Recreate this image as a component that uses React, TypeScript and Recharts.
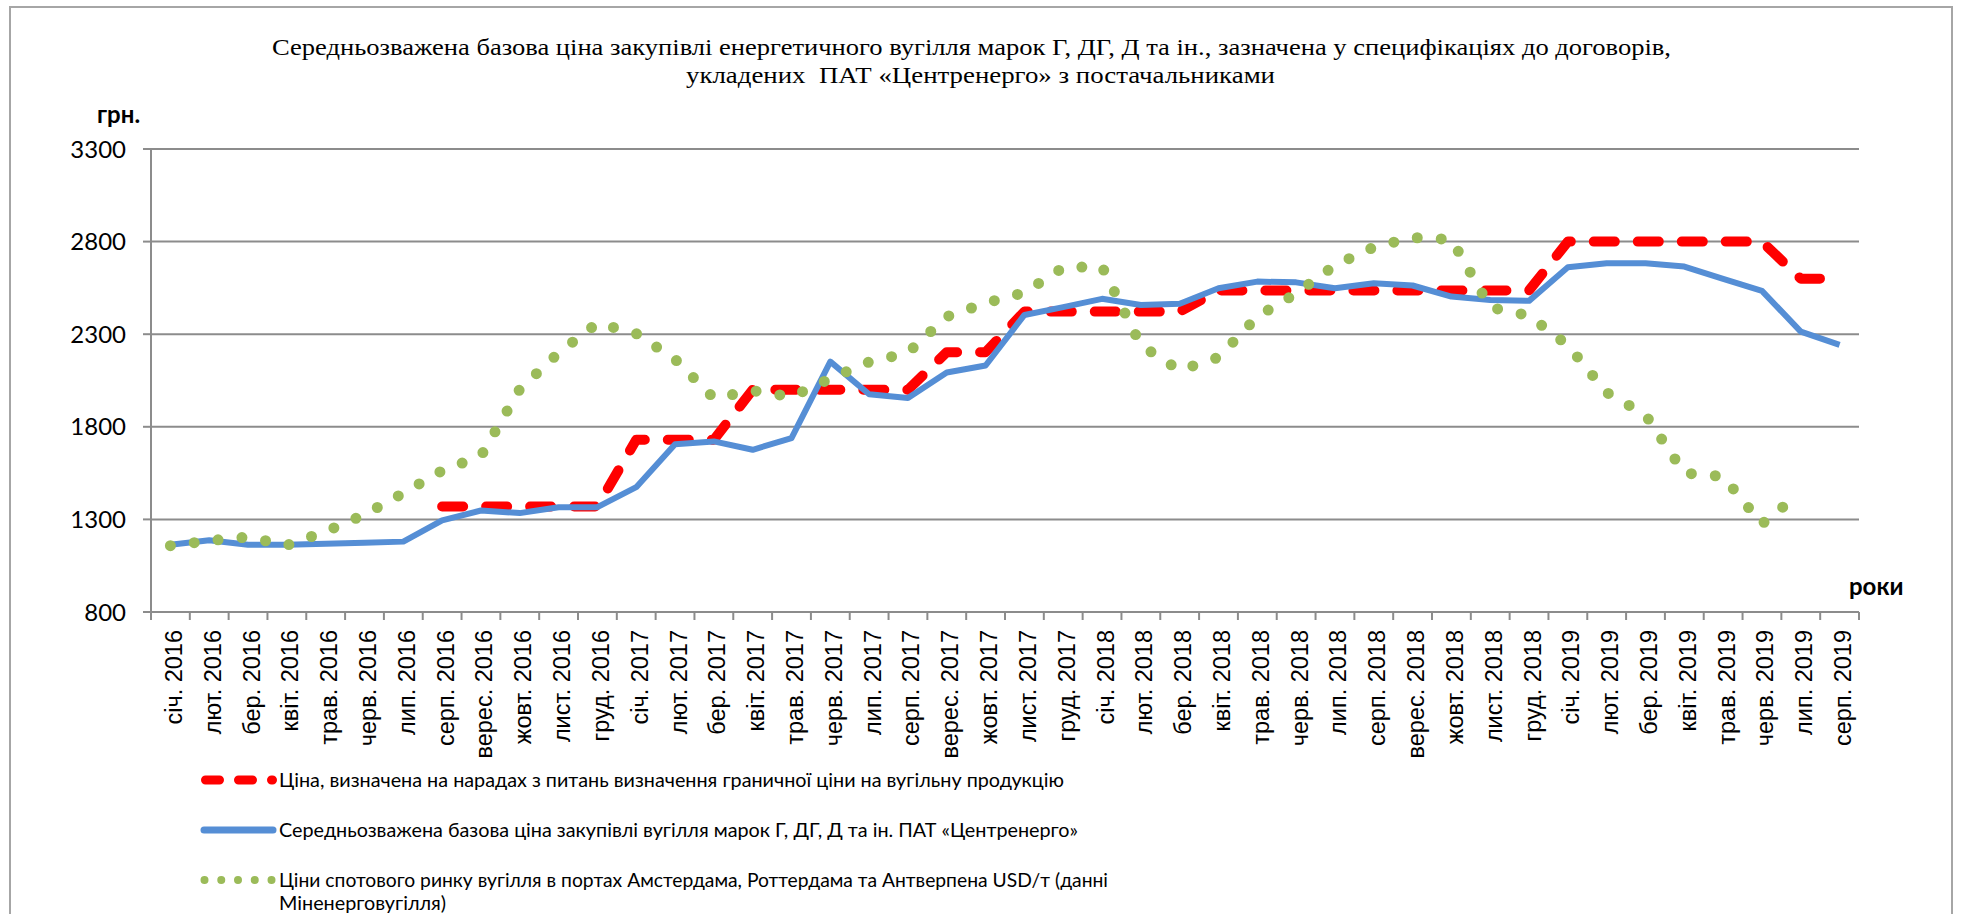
import React from "react";
import {
  LineChart,
  Line,
  XAxis,
  YAxis,
  CartesianGrid,
  Legend,
  Customized,
} from "recharts";

// місяці (вісь X)
const months = [
  "січ. 2016", "лют. 2016", "бер. 2016", "квіт. 2016", "трав. 2016", "черв. 2016",
  "лип. 2016", "серп. 2016", "верес. 2016", "жовт. 2016", "лист. 2016", "груд. 2016",
  "січ. 2017", "лют. 2017", "бер. 2017", "квіт. 2017", "трав. 2017", "черв. 2017",
  "лип. 2017", "серп. 2017", "верес. 2017", "жовт. 2017", "лист. 2017", "груд. 2017",
  "січ. 2018", "лют. 2018", "бер. 2018", "квіт. 2018", "трав. 2018", "черв. 2018",
  "лип. 2018", "серп. 2018", "верес. 2018", "жовт. 2018", "лист. 2018", "груд. 2018",
  "січ. 2019", "лют. 2019", "бер. 2019", "квіт. 2019", "трав. 2019", "черв. 2019",
  "лип. 2019", "серп. 2019",
];

// Ціна, визначена на нарадах (червона пунктирна)
const limitPrice = [
  null, null, null, null, null, null, null, 1370, 1370, 1370, 1370, 1370,
  1730, 1730, 1730, 2000, 2000, 2000, 2000, 2000, 2203, 2203, 2422, 2422,
  2422, 2422, 2422, 2536, 2536, 2536, 2536, 2536, 2536, 2536, 2536, 2536,
  2800, 2800, 2800, 2800, 2800, 2800, 2600, 2600,
];

// Середньозважена базова ціна ПАТ «Центренерго» (синя)
const basePrice = [
  1163, 1187, 1163, 1163, 1168, 1174, 1180, 1295, 1348, 1334, 1366, 1366,
  1474, 1706, 1721, 1676, 1739, 2152, 1976, 1955, 2093, 2131, 2404, 2446,
  2491, 2458, 2464, 2548, 2584, 2580, 2548, 2575, 2563, 2503, 2485, 2480,
  2661, 2683, 2683, 2665, 2599, 2534, 2314, 2242,
];

// Ціни спотового ринку ARA (зелена точкова)
const spotPrice = [
  1158, 1185, 1205, 1160, 1235, 1326, 1442, 1563, 1643, 2003, 2199, 2360,
  2303, 2165, 1955, 1995, 1962, 2060, 2150, 2200, 2395, 2468, 2525, 2660,
  2665, 2240, 2105, 2175, 2395, 2520, 2672, 2770, 2822, 2812, 2445, 2400,
  2240, 1985, 1865, 1550, 1532, 1275, 1445, null,
];

const yTicks = [800, 1300, 1800, 2300, 2800, 3300];

const seriesNames = [
  "Ціна, визначена на нарадах з питань визначення граничної ціни на вугільну продукцію",
  "Середньозважена базова ціна закупівлі вугілля марок Г, ДГ, Д та ін. ПАТ «Центренерго»",
  "Ціни спотового ринку вугілля в портах Амстердама, Роттердама та Антверпена USD/т (данні",
];
const spotNameTail = "Міненерговугілля)";

const title1 =
  "Середньозважена базова ціна закупівлі енергетичного вугілля марок Г, ДГ, Д та ін., зазначена у специфікаціях до договорів,";
const title2 = "укладених  ПАТ «Центренерго» з постачальниками";

const data = months.map((m, i) => ({
  month: m,
  limit: limitPrice[i],
  base: basePrice[i],
  spot: spotPrice[i],
}));

const W = 1961;
const H = 914;
const PLOT_LEFT = 151;
const PLOT_RIGHT = 1859;
const BAND = (PLOT_RIGHT - PLOT_LEFT) / months.length;
const GRID = "#8c8c8c";
const SANS = "Lato, 'Open Sans', sans-serif";

const legendOrder = ["limit", "base", "spot"];
const legendTextLength: Record<string, number> = { limit: 785, base: 799, spot: 829 };

const MonthTick = (props: any) => {
  const { x, y, payload, index } = props;
  const last = index === months.length - 1;
  return (
    <g>
      <line x1={x - BAND / 2} y1={y} x2={x - BAND / 2} y2={y + 8} stroke={GRID} strokeWidth={2} />
      {last && (
        <line x1={x + BAND / 2} y1={y} x2={x + BAND / 2} y2={y + 8} stroke={GRID} strokeWidth={2} />
      )}
      <text
        transform={`translate(${x + 11.5},${y + 18}) rotate(-90)`}
        textAnchor="end"
        fontFamily="'Liberation Sans', Arial, sans-serif"
        fontSize={23.5}
        fill="#000"
      >
        {payload.value}
      </text>
    </g>
  );
};

const Decor = () => (
  <g>
    <path d={`M10,${H + 5} L10,7 L1952,7 L1952,${H + 5}`} fill="none" stroke="#a6a6a6" strokeWidth={2} />
    <text
      x={272}
      y={55}
      fontFamily="'Liberation Serif', 'Times New Roman', serif"
      fontSize={24}
      textLength={1399}
      lengthAdjust="spacingAndGlyphs"
      fill="#000"
    >
      {title1}
    </text>
    <text
      x={686}
      y={83}
      fontFamily="'Liberation Serif', 'Times New Roman', serif"
      fontSize={24}
      textLength={589}
      lengthAdjust="spacingAndGlyphs"
      style={{ whiteSpace: "pre" }}
      fill="#000"
    >
      {title2}
    </text>
    <text x={97} y={123} fontFamily={SANS} fontSize={24} fontWeight="bold" fill="#000">
      грн.
    </text>
    <text x={1849} y={595} fontFamily={SANS} fontSize={24} fontWeight="bold" fill="#000">
      роки
    </text>
  </g>
);

const renderLegend = (props: any) => {
  const payload = [...(props.payload || [])].sort(
    (a: any, b: any) => legendOrder.indexOf(a.dataKey) - legendOrder.indexOf(b.dataKey)
  );
  return (
    <svg width={960} height={160} style={{ display: "block", overflow: "visible" }}>
      {payload.map((entry: any, i: number) => {
        const cy = 20 + i * 50;
        let sample;
        if (entry.dataKey === "limit") {
          sample = (
            <line x1={15.5} y1={cy} x2={82.5} y2={cy} stroke="#ff0000" strokeWidth={9}
              strokeDasharray="14 19" strokeLinecap="round" />
          );
        } else if (entry.dataKey === "base") {
          sample = (
            <line x1={14} y1={cy} x2={83} y2={cy} stroke="#558ed5" strokeWidth={7} strokeLinecap="round" />
          );
        } else {
          sample = (
            <line x1={14.5} y1={cy} x2={81.6} y2={cy} stroke="#9bbb59" strokeWidth={8}
              strokeDasharray="0 16.75" strokeLinecap="round" />
          );
        }
        return (
          <g key={entry.dataKey}>
            {sample}
            <text x={89} y={cy + 7} fontFamily={SANS} fontSize={20} fill="#000"
              textLength={legendTextLength[entry.dataKey]} lengthAdjust="spacingAndGlyphs">
              {entry.value}
            </text>
            {entry.dataKey === "spot" && (
              <text x={89} y={cy + 30} fontFamily={SANS} fontSize={20} fill="#000"
                textLength={167} lengthAdjust="spacingAndGlyphs">
                {spotNameTail}
              </text>
            )}
          </g>
        );
      })}
    </svg>
  );
};

export default function App() {
  return (
    <div style={{ width: W, height: H, background: "#fff" }}>
      <style>{"body{margin:0;}"}</style>
      <LineChart
        width={W}
        height={H}
        data={data}
        margin={{ top: 149, right: W - PLOT_RIGHT, bottom: 172, left: 0 }}
      >
        <CartesianGrid vertical={false} stroke={GRID} strokeWidth={2} />
        <XAxis
          dataKey="month"
          scale="band"
          interval={0}
          height={130}
          tickSize={0}
          tickMargin={0}
          tickLine={false}
          axisLine={{ stroke: GRID, strokeWidth: 2 }}
          tick={<MonthTick />}
        />
        <YAxis
          width={PLOT_LEFT}
          domain={[800, 3300]}
          ticks={yTicks}
          interval={0}
          tickSize={8}
          tickMargin={17}
          axisLine={{ stroke: GRID, strokeWidth: 2 }}
          tickLine={{ stroke: GRID, strokeWidth: 2 }}
          tick={{ fill: "#000", fontSize: 24, fontFamily: SANS }}
        />
        <Legend
          layout="vertical"
          align="center"
          verticalAlign="middle"
          itemSorter={null}
          wrapperStyle={{ left: 190, top: 760, width: 960, height: 160 }}
          content={renderLegend}
        />
        <Line
          dataKey="limit"
          name={seriesNames[0]}
          type="linear"
          stroke="#ff0000"
          strokeWidth={10}
          strokeDasharray="21 23"
          strokeLinecap="round"
          strokeLinejoin="round"
          dot={false}
          activeDot={false}
          isAnimationActive={false}
        />
        <Line
          dataKey="base"
          name={seriesNames[1]}
          type="linear"
          stroke="#558ed5"
          strokeWidth={6}
          strokeLinejoin="round"
          dot={false}
          activeDot={false}
          isAnimationActive={false}
        />
        <Line
          dataKey="spot"
          name={seriesNames[2]}
          type="linear"
          stroke="#9bbb59"
          strokeWidth={11}
          strokeDasharray="0 24"
          strokeLinecap="round"
          dot={false}
          activeDot={false}
          isAnimationActive={false}
        />
        <Customized component={Decor} />
      </LineChart>
    </div>
  );
}
